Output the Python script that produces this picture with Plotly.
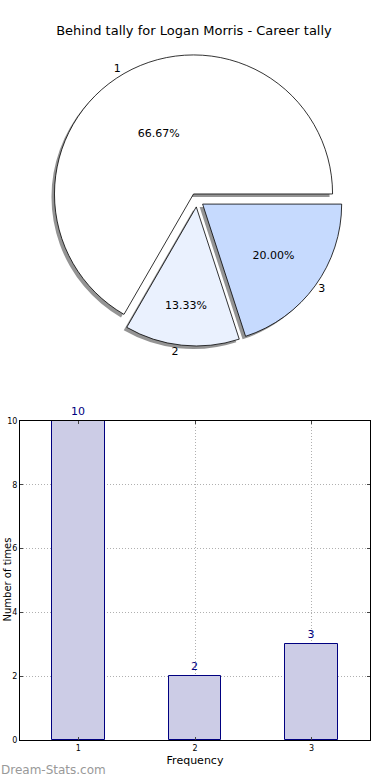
import plotly.graph_objects as go

# ---- data ----
categories = ["1", "2", "3"]
counts = [10, 2, 3]
slice_colors = ["#ffffff", "#eaf1fe", "#c6dafe"]
title_text = "Behind tally for Logan Morris - Career tally"
x_title = "Frequency"
y_title = "Number of times"
y_ticks = [0, 2, 4, 6, 8, 10]
watermark = "Dream-Stats.com"

W, H = 390, 780
FONT = "DejaVu Sans"

# pie geometry (paper fractions)
cx, cy, half = 197, 200, 146
dom_x = [(cx - half) / W, (cx + half) / W]
dom_y = [1 - (cy + half) / H, 1 - (cy - half) / H]
sh = 3  # shadow offset px
sdom_x = [dom_x[0] - sh / W, dom_x[1] - sh / W]
sdom_y = [dom_y[0] - sh / H, dom_y[1] - sh / H]

pull = [0.05] * len(counts)
ROT = 210

fig = go.Figure()

# shadow
fig.add_trace(go.Pie(
    labels=categories, values=counts, sort=False, direction="counterclockwise",
    rotation=ROT, pull=pull, domain=dict(x=sdom_x, y=sdom_y),
    marker=dict(colors=["rgba(60,60,60,0.55)"] * 3, line=dict(width=0)),
    textinfo="none", hoverinfo="skip", showlegend=False,
))
# main pie with percentages
fig.add_trace(go.Pie(
    labels=categories, values=counts, sort=False, direction="counterclockwise",
    rotation=ROT, pull=pull, domain=dict(x=dom_x, y=dom_y),
    marker=dict(colors=slice_colors, line=dict(color="black", width=0.8)),
    texttemplate="%{percent:.2%}", textposition="inside", insidetextorientation="horizontal",
    textfont=dict(family=FONT, size=11, color="black"), showlegend=False,
))
# outside category labels
fig.add_trace(go.Pie(
    labels=categories, values=counts, sort=False, direction="counterclockwise",
    rotation=ROT, pull=pull, domain=dict(x=dom_x, y=dom_y),
    marker=dict(colors=["rgba(0,0,0,0)"] * 3, line=dict(width=0)),
    texttemplate="%{label}", textposition="outside",
    outsidetextfont=dict(family=FONT, size=11, color="black"),
    hoverinfo="skip", showlegend=False,
))

# bar chart
fig.add_trace(go.Bar(
    x=[int(c) for c in categories], y=counts, width=0.45,
    marker=dict(color="#cccce6", line=dict(color="#000080", width=1)),
    text=[str(v) for v in counts], textposition="outside",
    textfont=dict(family=FONT, size=11, color="#000080"),
    cliponaxis=False, showlegend=False,
))

grid = dict(showgrid=True, gridcolor="#b0b0b0", griddash="1px,2px", gridwidth=1)

fig.update_layout(
    width=W, height=H, margin=dict(l=0, r=0, t=0, b=0),
    paper_bgcolor="white", plot_bgcolor="white",
    font=dict(family=FONT, size=11, color="black"),
    title=dict(text=title_text, x=194 / W, xanchor="center", y=1 - 30 / H, yanchor="middle",
               font=dict(family=FONT, size=13, color="black")),
    xaxis=dict(domain=[20 / W, 370 / W], range=[0.5, 3.5], tickvals=[1, 2, 3],
               ticktext=categories, tickfont=dict(size=8), ticks="inside", ticklen=3,
               showline=True, linecolor="black", linewidth=1, mirror="ticks",
               zeroline=False, automargin=False,
               title=dict(text=x_title, font=dict(size=11), standoff=4), **grid),
    yaxis=dict(domain=[40 / H, 359 / H], range=[0, 10], tickvals=y_ticks,
               tickfont=dict(size=8), ticks="inside", ticklen=3,
               showline=True, linecolor="black", linewidth=1, mirror="ticks",
               zeroline=False, automargin=False, **grid),
    bargap=0,
)

# y-axis title at the far left edge
fig.add_annotation(text=y_title, xref="paper", yref="paper", x=0, y=(1 - 580 / H),
                   xanchor="left", yanchor="middle", textangle=-90, showarrow=False,
                   borderpad=0, font=dict(family=FONT, size=10, color="black"))

fig.add_annotation(text=watermark, xref="paper", yref="paper", x=0, y=1 - 770 / H,
                   xanchor="left", yanchor="middle", showarrow=False, borderpad=0,
                   font=dict(family=FONT, size=12, color="#999999"))

fig.write_html("out.html", config={"displayModeBar": False},
               post_script="document.body.style.margin='0';")
